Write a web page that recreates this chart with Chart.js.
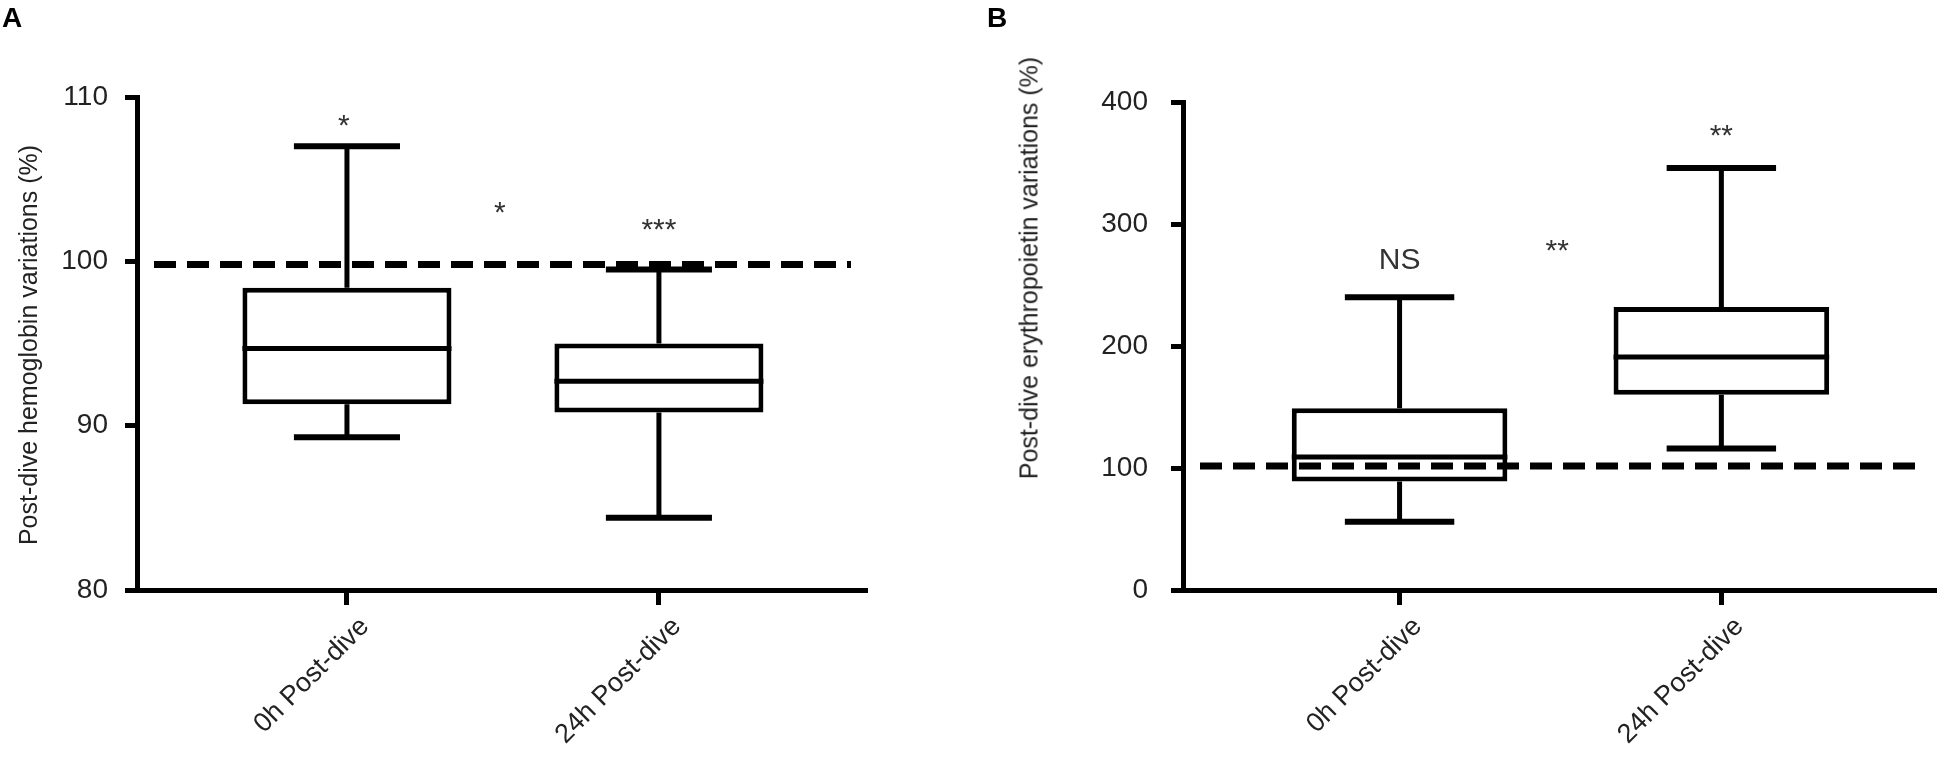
<!DOCTYPE html>
<html>
  <head>
    <meta charset="UTF-8">
    <title>post-dive box plots</title>
    <script src="https://cdn.jsdelivr.net/npm/chart.js@4.4.0/dist/chart.umd.min.js"></script>
    <style type="text/css">
      body { margin: 0; background: #fff; }
      #wrap { position: relative; width: 1950px; height: 759px; font-family: "Liberation Sans", Arial, sans-serif; }
      .panel { position: absolute; top: 0; width: 975px; height: 759px; }
      .letter { position: absolute; font-weight: bold; font-size: 28px; line-height: 1; color: #000; }
      .ytitle { position: absolute; font-size: 25px; line-height: 1; color: #222; white-space: nowrap;
                transform: translate(-50%, -50%) rotate(-90deg); }
    </style>
  </head>
  <body>
    <div id="wrap">
      <div class="panel" style="left:0"><canvas id="chartA"></canvas></div>
      <div class="panel" style="left:975px"><canvas id="chartB"></canvas></div>
      <div class="letter" style="left:2px;top:4px">A</div>
      <div class="letter" style="left:987px;top:4px">B</div>
      <div class="ytitle" style="left:28px;top:345px">Post-dive hemoglobin variations (%)</div>
      <div class="ytitle" style="left:1029px;top:268px">Post-dive erythropoietin variations (%)</div>
    </div>
    <script>
    // categories
    var groups = ["0h Post-dive", "24h Post-dive"];

    // A: hemoglobin (%)
    var hbMin = [89.3, 84.4];
    var hbQ1  = [91.3, 90.8];
    var hbMed = [94.7, 92.7];
    var hbQ3  = [98.4, 95.0];
    var hbMax = [107.0, 99.5];
    var hbRef = 99.8;
    var hbTicks = [80, 90, 100, 110];
    var hbNoteText = ["*", "*", "***"];
    var hbNoteX = [0.99, 1.49, 2];
    var hbNoteY = [108.4, 103.1, 102.1];

    // B: erythropoietin (%)
    var epoMin = [56, 116];
    var epoQ1  = [89, 160];
    var epoMed = [109, 191];
    var epoQ3  = [149, 232];
    var epoMax = [240, 346];
    var epoRef = 101.6;
    var epoTicks = [0, 100, 200, 300, 400];
    var epoNoteText = ["NS", "**", "**"];
    var epoNoteX = [1, 1.49, 2];
    var epoNoteY = [272, 280, 375];

    Chart.defaults.font.family = "'Liberation Sans', Arial, sans-serif";
    Chart.defaults.color = "#222";

    // whiskers, medians, dashed reference line and significance marks
    var boxExtras = {
      id: 'boxExtras',
      afterDatasetsDraw: function(chart, args, o) {
        var ctx = chart.ctx, xs = chart.scales.x, ys = chart.scales.y, a = chart.chartArea;
        var bars = chart.getDatasetMeta(0).data;
        ctx.save();
        ctx.strokeStyle = "#000";
        ctx.lineCap = "butt";
        for (var i = 0; i < bars.length; i++) {
          var cx = xs.getPixelForValue(i + 1);
          var half = bars[i].width / 2;
          // whiskers
          ctx.lineWidth = 5;
          ctx.beginPath();
          ctx.moveTo(cx, ys.getPixelForValue(o.q3[i]));
          ctx.lineTo(cx, ys.getPixelForValue(o.max[i]));
          ctx.moveTo(cx, ys.getPixelForValue(o.q1[i]));
          ctx.lineTo(cx, ys.getPixelForValue(o.min[i]));
          ctx.stroke();
          // caps
          ctx.lineWidth = 6;
          var c0 = xs.getPixelForValue(i + 1 - 0.17), c1 = xs.getPixelForValue(i + 1 + 0.17);
          ctx.beginPath();
          ctx.moveTo(c0, ys.getPixelForValue(o.max[i]));
          ctx.lineTo(c1, ys.getPixelForValue(o.max[i]));
          ctx.moveTo(c0, ys.getPixelForValue(o.min[i]));
          ctx.lineTo(c1, ys.getPixelForValue(o.min[i]));
          ctx.stroke();
          // median
          ctx.lineWidth = 5;
          ctx.beginPath();
          ctx.moveTo(cx - half, ys.getPixelForValue(o.med[i]));
          ctx.lineTo(cx + half, ys.getPixelForValue(o.med[i]));
          ctx.stroke();
        }
        // dashed line
        var yr = ys.getPixelForValue(o.ref);
        ctx.lineWidth = 7;
        ctx.setLineDash([22, 11]);
        ctx.beginPath();
        ctx.moveTo(a.left + 17, yr);
        ctx.lineTo(a.right - 16, yr);
        ctx.stroke();
        ctx.setLineDash([]);
        // notes
        ctx.fillStyle = "#333";
        ctx.textAlign = "center";
        ctx.textBaseline = "alphabetic";
        ctx.font = "30px 'Liberation Sans', Arial, sans-serif";
        for (var j = 0; j < o.noteText.length; j++) {
          var t = o.noteText[j];
          var lift = t.charAt(0) == "*" ? 12 : 11;
          ctx.fillText(t, xs.getPixelForValue(o.noteX[j]), ys.getPixelForValue(o.noteY[j]) + lift);
        }
        ctx.restore();
      }
    };

    function createBox(id, mins, q1s, meds, q3s, maxs, ref, yTicks, noteText, noteX, noteY, pad, yWidth, labelPad) {
      var boxData = [];
      for (var i = 0; i < groups.length; i++) {
        boxData.push({ x: i + 1, y: [q1s[i], q3s[i]] });
      }
      var ctx = document.getElementById(id).getContext('2d');
      return new Chart(ctx, {
        type: 'bar',
        data: {
          datasets: [{
            data: boxData,
            backgroundColor: "#fff",
            borderColor: "#000",
            borderWidth: 5,
            borderSkipped: false,
            barPercentage: 0.67,
            categoryPercentage: 1
          }]
        },
        options: {
          responsive: true,
          maintainAspectRatio: false,
          animation: false,
          layout: { padding: pad },
          plugins: {
            legend: { display: false },
            tooltip: { enabled: false },
            boxExtras: { min: mins, q1: q1s, med: meds, q3: q3s, max: maxs, ref: ref,
                         noteText: noteText, noteX: noteX, noteY: noteY }
          },
          scales: {
            x: {
              type: 'linear',
              offset: false,
              min: 0.327,
              max: 2.667,
              afterBuildTicks: function(scale) {
                scale.ticks = groups.map(function(g, i) { return { value: i + 1 }; });
              },
              afterFit: function(scale) { scale.height = 169; },
              grid: { offset: false, drawOnChartArea: false, drawTicks: true, tickLength: 15, tickWidth: 5, tickColor: "#000" },
              border: { display: true, color: "#000", width: 5 },
              ticks: {
                autoSkip: false,
                maxRotation: 45,
                minRotation: 45,
                padding: 6,
                labelOffset: 18,
                font: { size: 27 },
                color: "#222",
                callback: function(v, i) { return groups[i]; }
              }
            },
            y: {
              min: yTicks[0],
              max: yTicks[yTicks.length - 1],
              afterBuildTicks: function(scale) {
                scale.ticks = yTicks.map(function(v) { return { value: v }; });
              },
              afterFit: function(scale) { scale.width = yWidth; },
              grid: { drawOnChartArea: false, drawTicks: true, tickLength: 12, tickWidth: 5, tickColor: "#000" },
              border: { display: true, color: "#000", width: 5 },
              ticks: { padding: labelPad, font: { size: 28 }, color: "#222" }
            }
          }
        },
        plugins: [boxExtras]
      });
    }

    createBox('chartA', hbMin, hbQ1, hbMed, hbQ3, hbMax, hbRef, hbTicks,
              hbNoteText, hbNoteX, hbNoteY, { left: 0, top: 97, right: 108, bottom: 0 }, 137, 17);
    createBox('chartB', epoMin, epoQ1, epoMed, epoQ3, epoMax, epoRef, epoTicks,
              epoNoteText, epoNoteX, epoNoteY, { left: 0, top: 102, right: 14, bottom: 0 }, 208, 23);
    </script>
  </body>
</html>
